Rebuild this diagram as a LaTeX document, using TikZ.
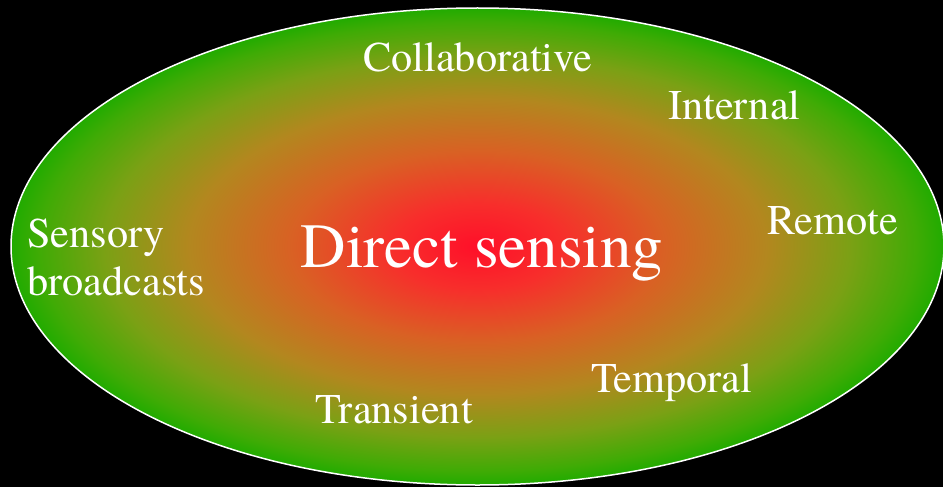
\documentclass[tikz,border=0pt]{standalone}
\usepackage{fontspec}
\newfontfamily\timesfont{TeX Gyre Termes}
\pgfdeclareradialshading{senseshade}{\pgfpoint{0bp}{0bp}}{%
  rgb(0bp)=(1,0.06,0.16);
  rgb(4.5bp)=(0.97,0.18,0.17);
  rgb(10bp)=(0.85,0.38,0.14);
  rgb(15.5bp)=(0.70,0.53,0.12);
  rgb(20bp)=(0.48,0.63,0.08);
  rgb(23.5bp)=(0.25,0.67,0.02);
  rgb(25bp)=(0.13,0.67,0);
  rgb(50bp)=(0.13,0.67,0)}
\tikzset{
  lbl/.style={inner sep=0pt, anchor=base west, text=white,
    font=\timesfont\fontsize{42.3}{48}\selectfont},
  big/.style={inner sep=0pt, anchor=base, text=white,
    font=\timesfont\fontsize{63}{72}\selectfont}
}
\begin{document}
\begin{tikzpicture}[x=1pt,y=-1pt]
  \useasboundingbox (0,0) rectangle (943,487);
  \fill[black] (0,0) rectangle (943,487);
  \coordinate (c) at (477.5,246.5);
  \path[shading=senseshade] (c) ellipse [x radius=466.5pt, y radius=238.5pt];
  \draw[white, line width=1.5pt] (c) ellipse [x radius=466.5pt, y radius=238.5pt];
  \node[big] (direct) at (482,267) {Direct sensing};
  \node[lbl] (collab) at (363,72) {Collaborative};
  \node[lbl] (internal) at (668,120) {Internal};
  \node[lbl] (remote) at (767,234) {Remote};
  \node[lbl, align=left] (sensory) at (27,295) {Sensory\\broadcasts};
  \node[lbl] (temporal) at (591,392) {Temporal};
  \node[lbl] (transient) at (315,423) {Transient};
\end{tikzpicture}
\end{document}
